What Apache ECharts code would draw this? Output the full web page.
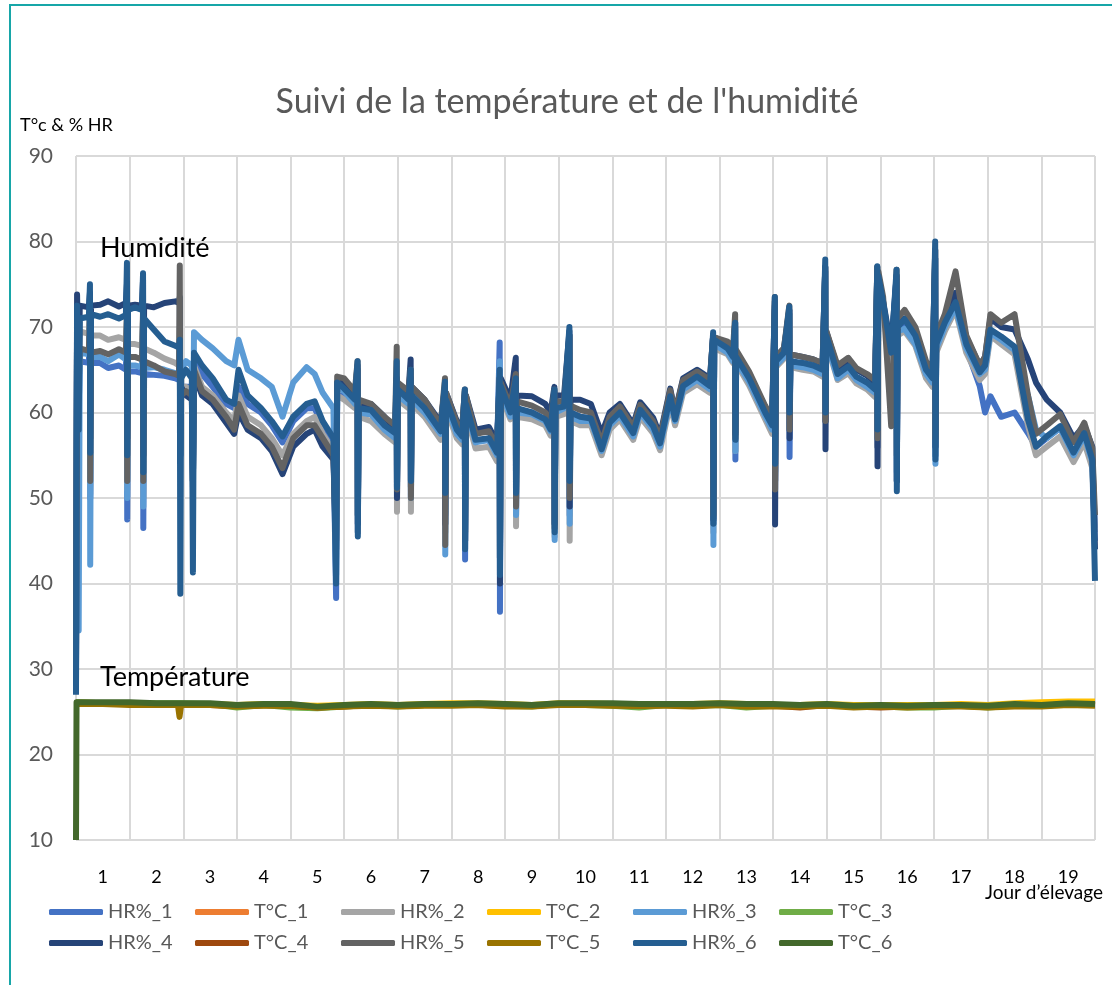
<!DOCTYPE html>
<html>
<head>
<meta charset="utf-8">
<title>Suivi de la température et de l'humidité</title>
<script src="https://cdn.jsdelivr.net/npm/echarts@6/dist/echarts.min.js"></script>
<style>
  html, body { margin: 0; padding: 0; background: #fff; }
  #chart { width: 1112px; height: 985px; }
</style>
</head>
<body>
<div id="chart"></div>
<script>
// jours d'élevage (axe x) pour les relevés d'humidité, un groupe par ligne = un jour
const jours = [
  0, 0.02, 0.05, 0.07, 0.24, 0.26, 0.265, 0.28, 0.45, 0.6, 0.8, 0.93, 0.95, 0.955, 0.97,
  1.1, 1.23, 1.25, 1.255, 1.27, 1.45, 1.65, 1.85, 1.92, 1.935, 1.945, 1.96,
  2.05, 2.16, 2.18, 2.2, 2.35, 2.55, 2.8, 2.95,
  3.03, 3.2, 3.45, 3.65, 3.85,
  4.05, 4.3, 4.45, 4.6, 4.8, 4.85, 4.87,
  5.0, 5.2, 5.23, 5.25, 5.255, 5.27, 5.5, 5.75, 5.95,
  5.98, 5.985, 6.0, 6.2, 6.24, 6.245, 6.26, 6.5, 6.8, 6.88, 6.885, 6.9,
  7.1, 7.2, 7.25, 7.255, 7.27, 7.45, 7.7, 7.85, 7.9, 7.905, 7.92,
  8.1, 8.2, 8.205, 8.22, 8.5, 8.75, 8.85, 8.92, 8.925, 8.94,
  9.1, 9.2, 9.205, 9.22, 9.4, 9.6, 9.8, 9.95,
  10.14, 10.39, 10.52, 10.76, 10.89,
  11.08, 11.17, 11.32, 11.58, 11.82, 11.88, 11.885, 11.9,
  12.15, 12.25, 12.29, 12.295, 12.31, 12.55, 12.85, 12.98,
  13.03, 13.035, 13.05, 13.2, 13.3, 13.305, 13.32, 13.55, 13.75, 13.92, 13.97, 13.975, 13.99,
  14.2, 14.4, 14.55, 14.75, 14.9, 14.94, 14.945, 14.96,
  15.05, 15.2, 15.3, 15.305, 15.32, 15.45, 15.65, 15.85, 15.97,
  16.02, 16.025, 16.04, 16.2, 16.4, 16.6, 16.85, 16.95,
  17.05, 17.25, 17.5, 17.75, 17.9,
  18.1, 18.35, 18.6, 18.8, 18.95, 19.0
]

const hr1 = [
  30, 70, 60, 66, 65.8, 71, 50, 65.8, 65.8, 65.2, 65.5, 65, 70, 47.5, 64.8,
  64.8, 64.6, 70, 46.5, 64.5, 64.4, 64.3, 64, 63.8, 67, 55, 63,
  63, 63, 52, 66, 64.5, 63, 61, 60.5,
  63, 61, 60, 58.5, 56.5,
  59, 60.5, 60.5, 58.5, 56.5, 38.3, 62,
  62, 61, 60.8, 65, 46, 60, 59.8, 58.2, 57,
  63.5, 50, 62, 61, 64, 50, 61.5, 60, 57.5, 62.5, 48, 61,
  57.8, 57, 62, 42.8, 60.8, 56.6, 56.8, 55, 68.2, 36.7, 63,
  60, 64, 48, 60.3, 60, 59.2, 58, 62.5, 47, 60.3,
  60.5, 69, 48, 60, 59.5, 59.3, 55.8, 58.8,
  60, 57.6, 60.3, 58.4, 56.4,
  61.8, 59.2, 63, 64, 63, 69, 47, 68.3,
  67.3, 66.3, 70.5, 54.5, 66.3, 63.8, 59.8, 58.3,
  72.5, 52, 65.8, 66.8, 72, 54.8, 65.8, 65.6, 65.3, 64.8, 77, 59, 68.8,
  64.3, 65.2, 64, 63.3, 62.5, 76.5, 56, 75.5,
  72.5, 66.5, 76, 52, 69.5, 70.5, 68.5, 64.5, 63.5,
  78, 55, 67.5, 70, 72.5, 67.5, 63.1, 60,
  61.9, 59.5, 60, 57.6, 56,
  57, 58.2, 55, 57.3, 54.2, 46.5
]

const hr2 = [
  32, 71, 64, 69.5, 69.2, 72, 50.5, 69, 69, 68.5, 68.8, 68.5, 71, 51, 68,
  68, 67.8, 71, 50, 67.5, 67, 66.3, 65.8, 65.5, 70, 56, 63,
  63, 62.5, 51.3, 65.5, 63, 62, 60, 59,
  62, 59.5, 58.5, 57, 55,
  57.5, 59, 59.5, 57.5, 55.5, 43, 62,
  61.5, 60.5, 60.3, 64, 46, 59.5, 59, 57.5, 56.5,
  63, 48.4, 61.5, 60.5, 63.5, 48.4, 61, 59.5, 56.8, 62, 46, 60.5,
  57, 56.3, 61.5, 45, 60, 55.8, 56, 54.3, 63, 43, 62,
  59.2, 63, 46.7, 59.5, 59.2, 58.5, 57.3, 62, 45.5, 59.5,
  59.8, 68.5, 45, 59, 58.5, 58.5, 55, 58,
  59.2, 56.8, 59.5, 57.6, 55.6,
  61, 58.5, 62.3, 63.3, 62.3, 68.5, 46, 67.5,
  66.8, 65.8, 70, 55.5, 65.8, 63.2, 59.2, 57.5,
  72, 52, 65.3, 66.3, 71.5, 58, 65.3, 65, 64.8, 64.2, 76.5, 59, 68.3,
  63.8, 64.6, 63.4, 62.7, 61.8, 76.5, 56, 75.5,
  72, 66, 75.5, 52, 69, 69.5, 67.8, 64, 63,
  78, 55, 67, 69.5, 72, 67, 63.8, 64.5,
  69, 68, 66.8, 58.5, 55,
  56, 57.2, 54.2, 56.5, 53.5, 46
]

const hr3 = [
  35, 70.5, 34.5, 67, 66.8, 72, 42.2, 66.5, 66.5, 66, 66.8, 66.2, 71, 50, 65.5,
  65.5, 65.3, 71, 49, 65.2, 65.3, 65, 64.6, 64.5, 68, 55, 65,
  66, 65.5, 53, 69.4, 68.5, 67.5, 66, 65.5,
  68.5, 65, 64, 63, 59.5,
  63.5, 65.3, 64.5, 62.3, 60.5, 41, 63,
  62.5, 61, 61, 65, 48, 60, 59.8, 58, 57,
  64, 51, 62, 61, 64, 50, 61.5, 60, 57.5, 63, 43.4, 61,
  57.5, 56.8, 62, 45, 60.5, 56.5, 56.8, 55, 66, 43, 62.5,
  59.5, 63.5, 48, 60, 59.8, 59, 57.8, 62, 45.1, 60,
  60.5, 69, 47, 59.5, 59, 59, 55.5, 58.5,
  59.6, 57.2, 60, 58, 56,
  61.5, 59, 62.7, 63.8, 62.7, 68.5, 44.5, 68,
  67, 66, 70, 55.5, 66, 63.6, 59.6, 58,
  72, 53, 65.5, 66.5, 71.5, 58, 65.5, 65.3, 65, 64.5, 76.5, 60, 68.5,
  64, 65, 63.8, 63, 62.3, 76.5, 57, 75.5,
  72.5, 67, 75.5, 53, 69.5, 69.8, 68, 64.5, 63.5,
  78, 54, 67.5, 70, 72.3, 67.5, 64.5, 65,
  69.3, 68.5, 67.3, 62, 58,
  57, 58.2, 55, 57.3, 54.2, 45
]

const hr4 = [
  28, 73.8, 62, 72.5, 72.3, 74, 57, 72.5, 72.6, 73, 72.4, 72.8, 75, 57, 72.5,
  72.6, 72.5, 75.5, 55, 72.5, 72.3, 72.8, 73, 72.8, 73.5, 58, 63,
  62, 61.5, 52, 64.5, 62, 61, 58.8, 57.5,
  60, 58, 57, 55.5, 52.8,
  56, 57.5, 58, 56, 54.5, 44, 63.5,
  63.5, 62, 62, 65.5, 47, 61, 61, 59.5, 58,
  64, 50, 63, 62.5, 66.2, 51.3, 63, 61.5, 58.8, 63, 47, 62.3,
  59, 58.3, 62.5, 45, 62, 58, 58.3, 56.5, 64, 40, 64,
  61.5, 66.4, 50, 62, 61.9, 61, 60, 63, 47, 62,
  62, 69.5, 49, 61.5, 61.5, 61, 57.5, 60,
  61, 58.6, 61.2, 59.4, 57.3,
  62.8, 60, 64, 65, 64, 69, 47.5, 68.8,
  68, 67, 70.5, 57.5, 67, 64.6, 60.6, 59.3,
  73, 46.9, 66.5, 67.5, 72, 57, 66.8, 66.5, 66.2, 65.7, 77, 55.7, 69.5,
  65.2, 66, 65, 64.3, 63.5, 77, 53.7, 76,
  73, 67.5, 76, 52, 70.5, 71, 69.5, 65.5, 64.5,
  79, 56, 68.5, 71, 74, 68.8, 65.5, 66.5,
  71, 70, 69.7, 66.2, 63.5,
  61.5, 60, 57, 58.5, 56, 44
]

const hr5 = [
  30, 71, 63, 67.5, 67.2, 72, 52, 67, 67.2, 66.8, 67.4, 67, 72, 52, 66.5,
  66.5, 66.2, 72, 52, 66, 65.5, 64.8, 64.5, 64.3, 77.2, 55, 62,
  62.5, 62, 52, 65, 62.5, 61.5, 59.5, 58,
  61, 58.5, 57.5, 56, 53.5,
  57, 58.5, 58.5, 57, 55, 45, 64.2,
  64, 62.5, 62.5, 66, 48, 61.5, 61, 59.5, 58.5,
  67.7, 51, 63.5, 62.5, 65, 50, 63, 61.5, 58.5, 64, 44.5, 62.3,
  58.8, 58, 62.7, 46, 62, 57.5, 57.8, 56, 64, 43, 63.5,
  60.8, 64.5, 49, 61.3, 60.8, 60, 59, 62.7, 46.5, 61.3,
  61.3, 69, 50, 60.8, 60.3, 60, 56.5, 59.5,
  60.7, 58.3, 60.9, 59, 57,
  62.6, 60, 63.8, 64.8, 63.8, 69, 48, 68.8,
  68.3, 67.3, 71.5, 57, 67.3, 64.8, 60.8, 59.3,
  73.5, 51, 66.5, 67.5, 72.5, 58, 66.8, 66.5, 66.2, 65.8, 77, 59, 69.5,
  65.5, 66.4, 65.2, 64.5, 63.8, 77, 57, 76.5,
  73.5, 58.4, 76.7, 55, 71, 72, 70, 66, 65,
  79, 57, 69, 71.5, 76.5, 69, 65.5, 66.5,
  71.5, 70.5, 71.5, 62, 57.5,
  58.5, 59.8, 56.5, 58.8, 55.8, 48
]

const hr6 = [
  27, 72.5, 58, 71, 71.2, 75, 55.3, 71.5, 71.2, 71.5, 71, 71.4, 77.5, 55, 72,
  72.3, 72, 76.3, 53, 71, 69.7, 68.3, 67.8, 67.6, 68.5, 38.8, 64,
  65, 64, 41.3, 67, 65.5, 64, 61.5, 61,
  65, 62, 60.5, 59, 57.2,
  59.5, 61, 61.3, 59, 57, 40, 63.5,
  62.8, 61.5, 61.3, 66, 45.5, 60.5, 60.3, 58.5, 57.6,
  66, 51.2, 62.7, 61.5, 65, 52, 62, 60.5, 57.8, 63.6, 50.6, 61.5,
  58, 57.2, 62.7, 44, 61, 56.8, 57, 55.3, 65, 41, 63.1,
  60, 64, 50.6, 60.5, 60, 59.2, 58, 62.7, 46, 60.5,
  60.7, 70, 52, 60, 59.5, 59.3, 55.7, 58.8,
  60, 57.6, 60.3, 58.4, 56.4,
  61.9, 59.2, 63.1, 64.2, 63.1, 69.4, 47, 68.5,
  67.5, 66.5, 70.5, 56.8, 66.5, 64, 60, 58.5,
  73.5, 54, 66, 67, 72.4, 60, 66, 65.8, 65.5, 65, 77.9, 60, 69,
  64.5, 65.4, 64.2, 63.5, 62.7, 77.1, 58, 76,
  72.9, 67, 76.7, 50.8, 70, 70.9, 69, 65, 64,
  80, 54.5, 68, 70.5, 72.9, 68, 64.7, 65.5,
  69.7, 68.9, 67.7, 59.2, 56,
  57.2, 58.4, 55.3, 57.6, 54.5, 40.3
]

// relevés de température (pas plus lâche)
const joursT = [0, 0.01, 0.5, 1, 1.5, 1.9, 1.93, 1.96, 2.5, 3, 3.5, 4, 4.5, 5, 5.5, 6, 6.5, 7, 7.5, 8, 8.5,
  9, 9.5, 10, 10.5, 11, 11.5, 12, 12.5, 13, 13.5, 14, 14.5, 15, 15.5, 16, 16.5, 17, 17.5, 18, 18.5, 19]

const t1 = [26.0, 26.0, 25.9, 25.9, 25.9, 25.9, 25.9, 25.9, 25.8, 25.7, 25.8, 25.8, 25.6, 25.7, 25.8, 25.7, 25.8, 25.8, 25.9, 25.8, 25.7,
  25.9, 25.9, 25.8, 25.8, 25.8, 25.8, 25.9, 25.8, 25.8, 25.7, 25.8, 25.6, 25.7, 25.6, 25.7, 25.7, 25.6, 25.8, 25.7, 25.9, 25.8]
const t2 = [26.1, 26.1, 26.0, 26.0, 25.9, 25.9, 26.0, 25.9, 25.9, 25.8, 25.9, 25.8, 25.7, 25.8, 25.9, 25.8, 25.9, 26.0, 26.0, 25.9, 25.8,
  26.0, 26.0, 25.9, 25.9, 25.9, 25.9, 26.0, 25.9, 25.8, 25.8, 25.9, 25.8, 25.8, 25.8, 25.8, 25.9, 25.8, 26.0, 26.1, 26.2, 26.2]
const t3 = [26.1, 26.1, 26.0, 25.9, 26.0, 26.0, 26.0, 26.0, 25.9, 25.5, 25.8, 25.5, 25.4, 25.6, 25.8, 25.6, 25.8, 25.8, 25.9, 25.7, 25.6,
  25.9, 25.8, 25.7, 25.5, 25.8, 25.7, 25.8, 25.5, 25.7, 25.6, 25.8, 25.6, 25.6, 25.5, 25.5, 25.7, 25.5, 25.7, 25.7, 25.9, 25.8]
const t4 = [26.0, 26.0, 25.9, 25.9, 25.9, 25.9, 25.9, 25.9, 25.8, 25.7, 25.8, 25.7, 25.5, 25.6, 25.8, 25.7, 25.8, 25.8, 25.8, 25.7, 25.7,
  25.9, 25.9, 25.8, 25.7, 25.8, 25.8, 25.9, 25.8, 25.7, 25.5, 25.8, 25.6, 25.5, 25.6, 25.7, 25.7, 25.6, 25.7, 25.7, 25.9, 25.8]
const t5 = [25.9, 25.9, 25.9, 25.8, 25.8, 25.8, 24.4, 25.8, 25.8, 25.6, 25.7, 25.7, 25.5, 25.6, 25.7, 25.6, 25.7, 25.7, 25.8, 25.6, 25.6,
  25.8, 25.8, 25.7, 25.7, 25.7, 25.6, 25.8, 25.6, 25.6, 25.6, 25.7, 25.5, 25.6, 25.5, 25.6, 25.6, 25.5, 25.6, 25.6, 25.8, 25.7]
const t6 = [10, 26.1, 26.1, 26.1, 26.0, 26.0, 26.1, 26.0, 26.0, 25.8, 25.9, 25.9, 25.6, 25.8, 25.9, 25.8, 25.9, 25.9, 26.0, 25.9, 25.8,
  26.0, 26.0, 26.0, 25.9, 25.9, 25.9, 26.0, 25.9, 25.9, 25.8, 25.9, 25.7, 25.8, 25.7, 25.8, 25.8, 25.7, 25.9, 25.8, 26.0, 25.9]

const joursLabels = ['1', '2', '3', '4', '5', '6', '7', '8', '9', '10', '11', '12', '13', '14', '15', '16', '17', '18', '19']

const noms = ['HR%_1', 'T°C_1', 'HR%_2', 'T°C_2', 'HR%_3', 'T°C_3', 'HR%_4', 'T°C_4', 'HR%_5', 'T°C_5', 'HR%_6', 'T°C_6']
const couleurs = ['#4472C4', '#ED7D31', '#A5A5A5', '#FFC000', '#5B9BD5', '#70AD47',
  '#264478', '#9E480E', '#636363', '#997300', '#255E91', '#43682B']
const humidites = [hr1, hr2, hr3, hr4, hr5, hr6]
const temperatures = [t1, t2, t3, t4, t5, t6]

const police = 'Lato, "Liberation Sans", sans-serif'
const grille = '#d9d9d9'

const chart = echarts.init(document.getElementById('chart'))

const series = noms.map((nom, k) => {
  const estHR = k % 2 === 0
  const valeurs = estHR ? humidites[k / 2] : temperatures[(k - 1) / 2]
  const x = estHR ? jours : joursT
  return {
    name: nom,
    type: 'line',
    xAxisIndex: 0,
    symbol: 'none',
    showSymbol: false,
    data: x.map((t, i) => [t, valeurs[i]]),
    lineStyle: { width: 6, color: couleurs[k], join: 'round' },
    itemStyle: { color: couleurs[k] }
  }
})

// Excel range la légende en colonnes de largeur égale : un composant par entrée
const legendes = noms.map((nom, k) => ({
  data: [nom],
  left: 44 + (k % 6) * 146,
  top: k < 6 ? 897 : 928,
  icon: 'roundRect',
  itemWidth: 54,
  itemHeight: 6,
  textStyle: { color: '#595959', fontSize: 20, fontFamily: police }
}))

chart.setOption({
  animation: false,
  backgroundColor: '#fff',
  grid: { left: 76, right: 17, top: 156, bottom: 145 },
  legend: legendes,
  xAxis: [
    {
      type: 'value',
      min: 0,
      max: 19,
      interval: 1,
      axisLine: { show: false },
      axisTick: { show: false },
      axisLabel: { show: false },
      splitLine: { show: true, lineStyle: { color: grille, width: 2 } }
    },
    {
      type: 'category',
      data: joursLabels,
      position: 'bottom',
      boundaryGap: true,
      axisLine: { show: false },
      axisTick: { show: false },
      splitLine: { show: false },
      axisLabel: { color: '#000', fontSize: 18, margin: 28, fontFamily: police }
    }
  ],
  yAxis: {
    type: 'value',
    min: 10,
    max: 90,
    interval: 10,
    axisLine: { show: false },
    axisTick: { show: false },
    axisLabel: { color: '#595959', fontSize: 21, margin: 23, fontFamily: police },
    splitLine: { lineStyle: { color: grille, width: 2 } }
  },
  graphic: [
    {
      type: 'rect',
      shape: { x: 10, y: 5, width: 1200, height: 1100 },
      style: { fill: 'none', stroke: '#17a6a8', lineWidth: 2 },
      silent: true
    },
    {
      type: 'text', x: 567, y: 102, z: 10,
      style: { text: "Suivi de la température et de l'humidité", fill: '#595959', fontSize: 34, fontFamily: police, align: 'center', verticalAlign: 'middle' }
    },
    {
      type: 'text', x: 20, y: 125, z: 10,
      style: { text: 'T°c & % HR', fill: '#000', fontSize: 18, fontFamily: police, align: 'left', verticalAlign: 'middle' }
    },
    {
      type: 'text', x: 100, y: 248, z: 10,
      style: { text: 'Humidité', fill: '#000', fontSize: 27, fontFamily: police, align: 'left', verticalAlign: 'middle' }
    },
    {
      type: 'text', x: 100, y: 677, z: 10,
      style: { text: 'Température', fill: '#000', fontSize: 27, fontFamily: police, align: 'left', verticalAlign: 'middle' }
    },
    {
      type: 'text', x: 1103, y: 893, z: 10,
      style: { text: 'Jour d’élevage', fill: '#000', fontSize: 19, fontFamily: police, align: 'right', verticalAlign: 'middle' }
    }
  ],
  series: series
})
</script>
</body>
</html>
